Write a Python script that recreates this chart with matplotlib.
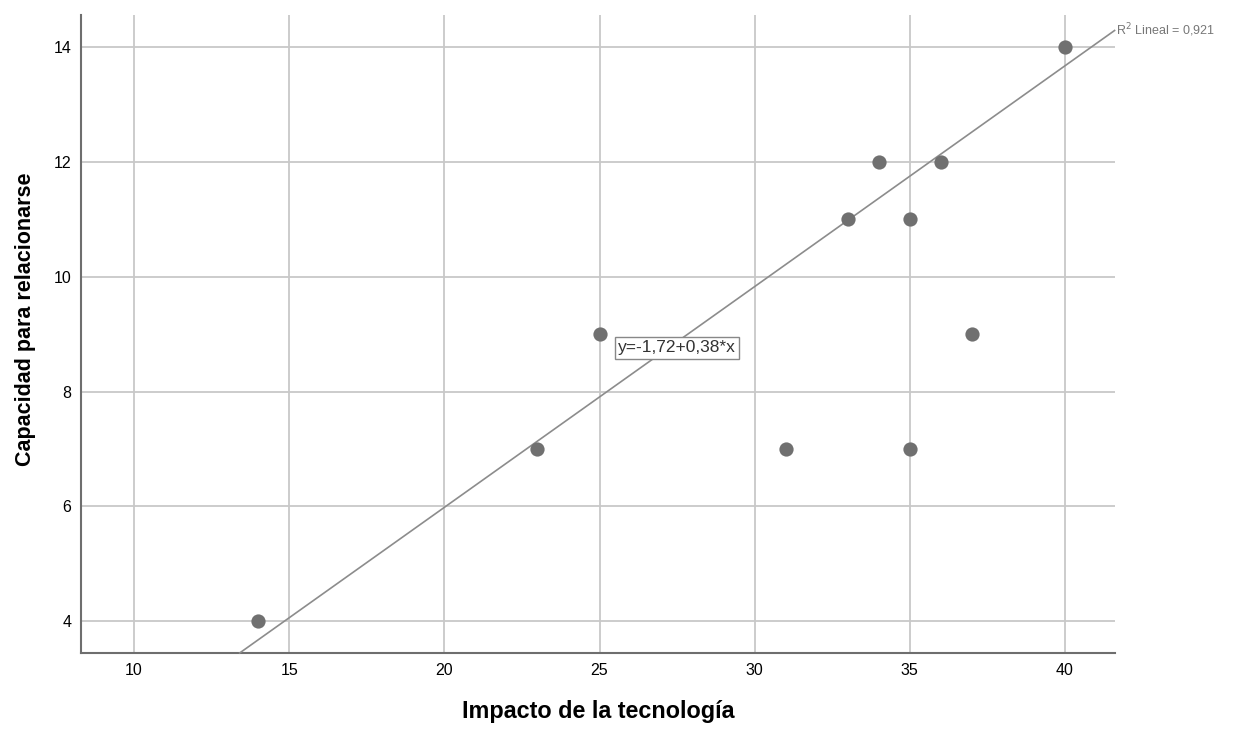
import numpy as np
import matplotlib.pyplot as plt

# data
impacto = [14, 23, 25, 31, 33, 34, 35, 35, 36, 37, 40]
capacidad = [4, 7, 9, 7, 11, 12, 11, 7, 12, 9, 14]
intercept = -1.72
slope = 0.385
r2_label = "R$^2$ Lineal = 0,921"
eq_label = "y=-1,72+0,38*x"

xticks = [10, 15, 20, 25, 30, 35, 40]
yticks = [4, 6, 8, 10, 12, 14]

plt.rcParams['font.family'] = ['Liberation Sans', 'DejaVu Sans']

fig = plt.figure(figsize=(12.58, 7.31), dpi=100)
ax = fig.add_axes([0.0644, 0.1067, 0.8216, 0.8723])

xmin, xmax = 8.29, 41.6
ymin, ymax = 3.44, 14.56
ax.set_xlim(xmin, xmax)
ax.set_ylim(ymin, ymax)

ax.set_xticks(xticks)
ax.set_yticks(yticks)
ax.grid(True, color='#c8c8c8', linewidth=1.3)
ax.set_axisbelow(True)
ax.tick_params(length=0, labelsize=11.5)
ax.tick_params(axis='x', pad=7)
ax.tick_params(axis='y', pad=7)

for side in ['top', 'right']:
    ax.spines[side].set_visible(False)
for side in ['left', 'bottom']:
    ax.spines[side].set_color('#6e6e6e')
    ax.spines[side].set_linewidth(1.5)

# regression line from bottom of axis to right edge
lx = np.array([(ymin - intercept) / slope, xmax])
ax.plot(lx, intercept + slope * lx, color='#8c8c8c', linewidth=1.2, zorder=3,
        clip_on=False)

ax.scatter(impacto, capacidad, s=105, color='#707070', zorder=4, linewidths=0)

ax.text(xmax + 0.05, intercept + slope * xmax, r2_label, fontsize=9,
        color='#777777', va='center', ha='left', clip_on=False)
ax.text(25.6, 8.76, eq_label, fontsize=12.5, color='#333333', va='center',
        ha='left', bbox=dict(boxstyle='square,pad=0.2', facecolor='white',
                             edgecolor='#888888', linewidth=1))

ax.set_xlabel('Impacto de la tecnología', fontsize=16.8, fontweight='bold',
              labelpad=16)
ax.set_ylabel('Capacidad para relacionarse', fontsize=15.5, fontweight='bold')
ax.yaxis.set_label_coords(-0.044, 0.523)

fig.savefig('out.png', dpi=100)
